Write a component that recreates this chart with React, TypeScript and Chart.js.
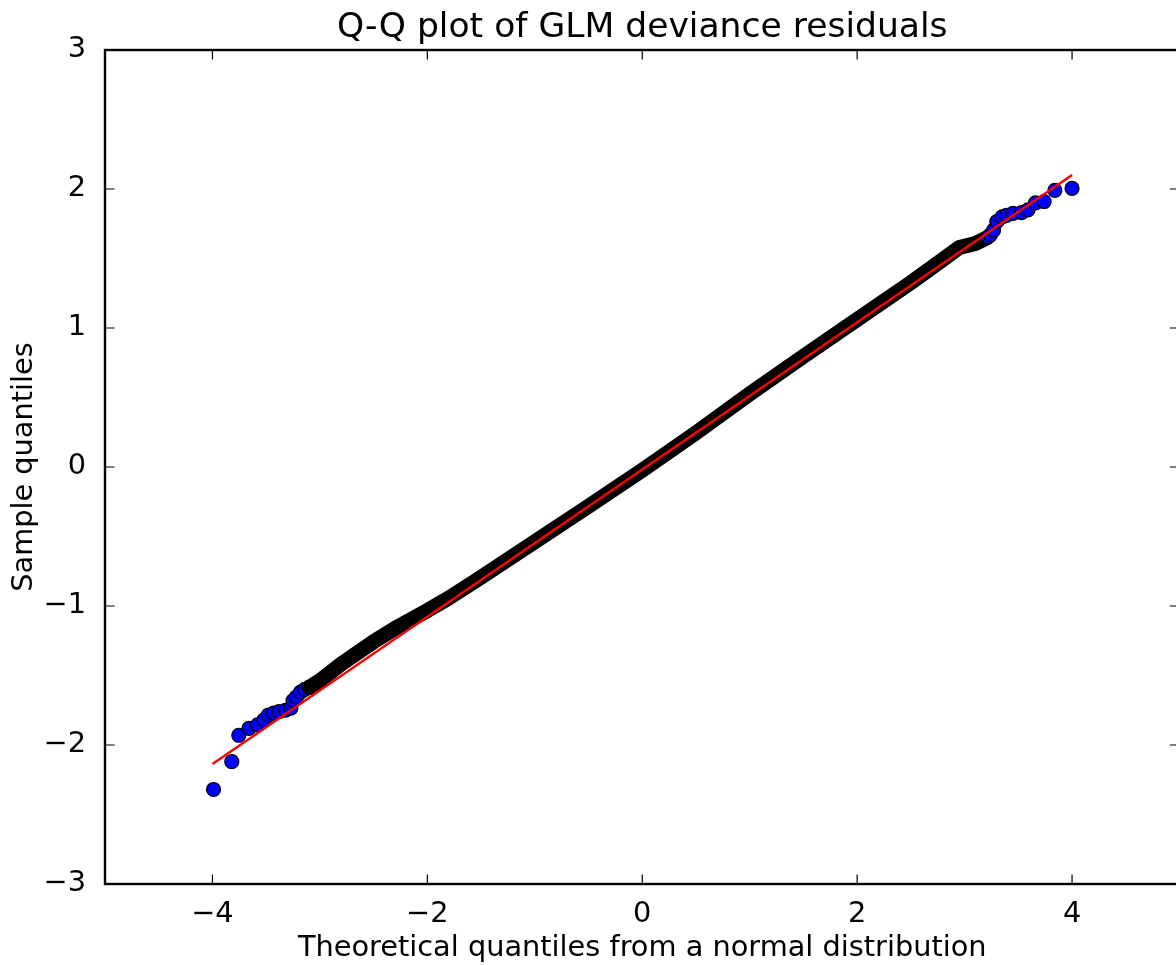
import React, { useEffect, useRef } from "react";
import { Chart, registerables } from "chart.js";

Chart.register(...registerables);

const TITLE = "Q-Q plot of GLM deviance residuals";
const X_LABEL = "Theoretical quantiles from a normal distribution";
const Y_LABEL = "Sample quantiles";

const xTickValues = [-4, -2, 0, 2, 4];
const yTickValues = [-3, -2, -1, 0, 1, 2, 3];
const xRange = [-5, 5];
const yRange = [-3, 3];

// sparse lower tail of the sample (theoretical, sample quantiles)
const lowerTailX = [-3.99, -3.82, -3.755, -3.66, -3.58, -3.52, -3.48, -3.43, -3.38, -3.32, -3.27, -3.25, -3.22, -3.18, -3.14, -3.1];
const lowerTailY = [-2.32, -2.12, -1.93, -1.88, -1.855, -1.82, -1.785, -1.77, -1.76, -1.75, -1.735, -1.68, -1.655, -1.62, -1.6, -1.585];

// dense central run of points (overlapping markers form a solid band)
const bandX = [-3.1, -3.0, -2.8, -2.5, -2.3, -2.0, -1.8, -1.5, -1.0, -0.5, 0, 0.5, 1.0, 1.5, 2.0, 2.5, 2.8, 2.95, 3.1, 3.2];
const bandY = [-1.585, -1.537, -1.416, -1.257, -1.161, -1.033, -0.942, -0.793, -0.538, -0.283, -0.024, 0.246, 0.526, 0.796, 1.061, 1.326, 1.494, 1.579, 1.608, 1.646];

// sparse upper tail
const upperTailX = [3.22, 3.24, 3.27, 3.3, 3.35, 3.39, 3.45, 3.53, 3.59, 3.66, 3.74, 3.84, 4.0];
const upperTailY = [1.655, 1.67, 1.705, 1.765, 1.8, 1.81, 1.825, 1.83, 1.85, 1.9, 1.91, 1.99, 2.005];

// fitted reference line
const refLineX = [-4, 4];
const refLineY = [-2.137, 2.1];

const FONT = "'DejaVu Sans', 'Liberation Sans', sans-serif";
const CANVAS_W = 1200;
const CANVAS_H = 965;

const zip = (xs: number[], ys: number[]) => xs.map((x, i) => ({ x, y: ys[i] }));
const fmt = (v: number | string) => {
  const n = Number(v);
  return n < 0 ? "\u2212" + Math.abs(n) : String(n);
};

const framePlugin = {
  id: "mplFrame",
  afterDraw(chart: any) {
    const { ctx, chartArea } = chart;
    const { left, right, top, bottom } = chartArea;
    const xs = chart.scales.x;
    const ys = chart.scales.y;
    const tl = 9.6;
    ctx.save();
    ctx.strokeStyle = "#000";
    ctx.lineWidth = 1.2;
    ctx.beginPath();
    xTickValues.forEach((v) => {
      const px = xs.getPixelForValue(v);
      ctx.moveTo(px, bottom);
      ctx.lineTo(px, bottom - tl);
      ctx.moveTo(px, top);
      ctx.lineTo(px, top + tl);
    });
    yTickValues.forEach((v) => {
      const py = ys.getPixelForValue(v);
      ctx.moveTo(left, py);
      ctx.lineTo(left + tl, py);
      ctx.moveTo(right, py);
      ctx.lineTo(right - tl, py);
    });
    ctx.stroke();
    ctx.lineWidth = 2.4;
    ctx.strokeRect(left, top, right - left, bottom - top);
    ctx.restore();
  },
};

export default function App() {
  const ref = useRef<HTMLCanvasElement>(null);

  useEffect(() => {
    document.body.style.margin = "0";
    document.documentElement.style.overflow = "hidden";
    const canvas = ref.current!;
    const markerStyle = {
      backgroundColor: "#0000ff",
      borderColor: "#000000",
      borderWidth: 1.2,
      pointRadius: 7,
      pointHoverRadius: 7,
    };
    const chart = new Chart(canvas, {
      type: "scatter",
      data: {
        datasets: [
          {
            label: "fit",
            data: zip(refLineX, refLineY),
            showLine: true,
            borderColor: "#ff0000",
            borderWidth: 2.4,
            pointRadius: 0,
            order: 0,
          },
          {
            label: "upper",
            data: zip(upperTailX, upperTailY),
            ...markerStyle,
            order: 1,
          },
          {
            label: "band",
            data: zip(bandX, bandY),
            showLine: true,
            borderColor: "#000000",
            borderWidth: 15,
            borderCapStyle: "round",
            borderJoinStyle: "round",
            pointRadius: 0,
            order: 2,
          },
          {
            label: "lower",
            data: zip(lowerTailX, lowerTailY),
            ...markerStyle,
            order: 3,
          },
        ] as any,
      },
      options: {
        responsive: false,
        animation: false,
        devicePixelRatio: 1,
        events: [],
        layout: { padding: { left: 0, top: 0, bottom: 0, right: CANVAS_W - 1179.5 } },
        plugins: {
          legend: { display: false },
          tooltip: { enabled: false },
          title: { display: false },
        },
        scales: {
          x: {
            type: "linear",
            position: "bottom",
            min: xRange[0],
            max: xRange[1],
            afterBuildTicks: (s: any) => {
              s.ticks = xTickValues.map((value) => ({ value }));
            },
            afterFit: (s: any) => {
              s.height = 81;
            },
            ticks: {
              includeBounds: false,
              autoSkip: false,
              maxRotation: 0,
              padding: 5,
              color: "#000",
              font: { family: FONT, size: 28.8 },
              callback: (v: any) => fmt(v),
            },
            grid: { display: false },
            border: { display: false },
            title: {
              display: true,
              text: X_LABEL,
              color: "#000",
              font: { family: FONT, size: 28.8, lineHeight: 1 },
              padding: { top: 0, bottom: 2 },
            },
          },
          x2: {
            type: "linear",
            axis: "x",
            position: "top",
            min: xRange[0],
            max: xRange[1],
            afterFit: (s: any) => {
              s.height = 50;
            },
            ticks: { display: false },
            grid: { display: false },
            border: { display: false },
            title: {
              display: true,
              text: TITLE,
              color: "#000",
              font: { family: FONT, size: 34.56, lineHeight: 1 },
              padding: { top: 11, bottom: 0 },
            },
          },
          y: {
            type: "linear",
            position: "left",
            min: yRange[0],
            max: yRange[1],
            afterBuildTicks: (s: any) => {
              s.ticks = yTickValues.map((value) => ({ value }));
            },
            afterFit: (s: any) => {
              s.width = 105;
            },
            ticks: {
              includeBounds: false,
              autoSkip: false,
              padding: 11,
              color: "#000",
              font: { family: FONT, size: 28.8 },
              callback: (v: any) => fmt(v),
            },
            grid: { display: false },
            border: { display: false },
            title: {
              display: true,
              text: Y_LABEL,
              color: "#000",
              font: { family: FONT, size: 28.8, lineHeight: 1 },
              padding: { top: 10, bottom: 0 },
            },
          },
        },
      } as any,
      plugins: [framePlugin],
    });
    return () => chart.destroy();
  }, []);

  return (
    <div
      style={{
        position: "fixed",
        left: 0,
        top: 0,
        width: "100vw",
        height: "100vh",
        overflow: "hidden",
        background: "#fff",
      }}
    >
      <canvas
        ref={ref}
        width={CANVAS_W}
        height={CANVAS_H}
        style={{ position: "absolute", left: 0, top: 0, width: CANVAS_W, height: CANVAS_H }}
      />
    </div>
  );
}
